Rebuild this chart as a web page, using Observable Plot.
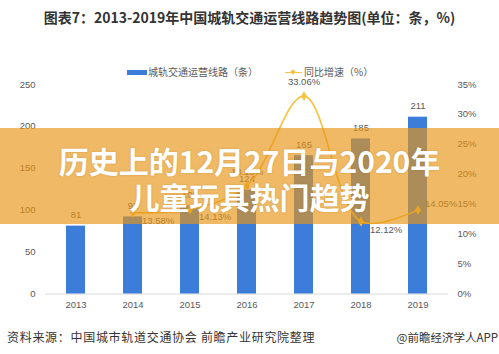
<!DOCTYPE html>
<html><head><meta charset="utf-8">
<script src="https://cdn.jsdelivr.net/npm/d3@7"></script>
<script src="https://cdn.jsdelivr.net/npm/@observablehq/plot@0.6"></script>
<style>
body{margin:0;background:#fff;}
#wrap{position:relative;width:499px;height:354px;overflow:hidden;font-family:"Noto Sans CJK SC","Noto Sans",sans-serif;}
#chart{position:absolute;left:0;top:0;}
.abs{position:absolute;white-space:nowrap;}
.title{top:8px;left:0;width:499px;text-align:center;font-weight:bold;font-size:14px;line-height:18px;color:#333;}
.leg{font-size:10px;line-height:14px;color:#595959;}
.band{left:0;top:128px;width:499px;height:96px;background:rgba(230,148,22,0.66);}
.bandtxt{left:0;top:142px;width:499px;text-align:center;color:#fff;font-weight:bold;font-size:30px;line-height:36px;text-shadow:0 0 2px rgba(120,70,0,0.25);}
.src{top:330px;font-size:12px;line-height:14px;color:#333;}
</style></head>
<body>
<div id="wrap">
  <div id="chart"></div>
  <div class="abs title">图表7：2013-2019年中国城轨交通运营线路趋势图(单位：条，%)</div>
  <div class="abs" style="left:127px;top:70px;width:20px;height:5px;background:#3b7dd8"></div>
  <div class="abs leg" style="left:148px;top:65px">城轨交通运营线路（条）</div>
  <div class="abs" style="left:285px;top:71.5px;width:17px;height:1.5px;background:#f5c242"></div>
  <div class="abs" style="left:291px;top:70px;width:4px;height:4px;background:#f5c242;transform:rotate(45deg)"></div>
  <div class="abs leg" style="left:304px;top:65px">同比增速（%）</div>
  <div class="abs src" style="left:7px;letter-spacing:0.7px">资料来源：中国城市轨道交通协会 前瞻产业研究院整理</div>
  <div class="abs src" style="right:1px;font-size:11.5px">@前瞻经济学人APP</div>
  <div class="abs band"></div>
  <div class="abs bandtxt">历史上的12月27日与2020年<br>儿童玩具热门趋势</div>
</div>
<script>
const years = ["2013","2014","2015","2016","2017","2018","2019"];
const lineCounts = [81, 92, 105, 124, 165, 185, 211];
const growthYears = ["2014","2015","2016","2017","2018","2019"];
const growthRates = [13.58, 14.13, 18.10, 33.06, 12.12, 14.05];
const leftTicks = [0, 50, 100, 150, 200, 250];
const rightTicks = [0, 5, 10, 15, 20, 25, 30, 35];

const k = 250 / 35;
const bars = years.map((y, i) => ({year: y, value: lineCounts[i]}));
const growth = growthYears.map((y, i) => ({year: y, g: growthRates[i], v: growthRates[i] * k}));
const fmt = d => d.g.toFixed(2) + "%";
const rightBelow = growth.filter(d => ["2014","2015","2018"].includes(d.year));
const above = growth.filter(d => ["2016","2017"].includes(d.year));
const rightAbove = growth.filter(d => d.year === "2019");
const lineColor = "#f5c242";
const labelColor = "#595959";

const chart = Plot.plot({
  width: 499, height: 354,
  marginTop: 84, marginBottom: 60.5, marginLeft: 45, marginRight: 51,
  style: {fontFamily: "'Liberation Sans', Arial, sans-serif", fontSize: "9.5px", color: labelColor, background: "transparent"},
  x: {type: "band", domain: years, paddingInner: 0.67, paddingOuter: 0.335},
  y: {domain: [0, 250]},
  marks: [
    Plot.ruleY([0], {stroke: "#d9d9d9"}),
    Plot.barY(bars, {x: "year", y: "value", fill: "#3b7dd8"}),
    Plot.text(bars, {x: "year", y: "value", text: d => String(d.value), dy: -11, fill: labelColor}),
    Plot.lineY(growth, {x: "year", y: "v", stroke: lineColor, strokeWidth: 1.6, curve: "catmull-rom"}),
    Plot.dot(growth, {x: "year", y: "v", symbol: "diamond", r: 3, fill: lineColor, stroke: null}),
    Plot.text(rightBelow, {x: "year", y: "v", text: fmt, textAnchor: "start", dx: 9, dy: 8, fill: labelColor}),
    Plot.text(above, {x: "year", y: "v", text: fmt, dy: -14, fill: labelColor}),
    Plot.text(rightAbove, {x: "year", y: "v", text: fmt, textAnchor: "start", dx: 7, dy: -6, fill: labelColor}),
    Plot.axisY({ticks: leftTicks, anchor: "left", tickSize: 0, tickPadding: 10, label: null}),
    Plot.axisY({ticks: rightTicks.map(v => v * k), tickFormat: d => Math.round(d / k) + "%", anchor: "right", tickSize: 0, tickPadding: 9, label: null}),
    Plot.axisX({tickSize: 0, tickPadding: 7, label: null})
  ]
});
document.getElementById("chart").appendChild(chart);
</script>
</body></html>
